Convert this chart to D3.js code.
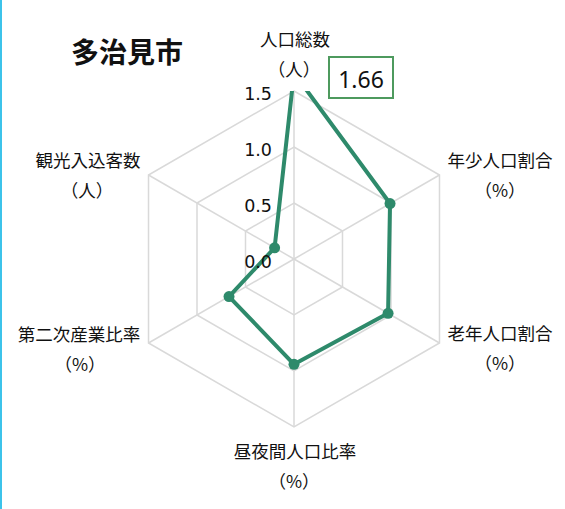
<!DOCTYPE html>
<html><head><meta charset="utf-8">
<script src="https://cdn.jsdelivr.net/npm/d3@7"></script>
<style>body{margin:0;background:#fff;}svg{display:block;}</style>
</head><body>
<script>
const title = "多治見市";
const categories = ["人口総数", "年少人口割合", "老年人口割合", "昼夜間人口比率", "第二次産業比率", "観光入込客数"];
const units = ["（人）", "（%）", "（%）", "（%）", "（%）", "（人）"];
const values = [1.66, 0.99, 0.97, 0.94, 0.67, 0.2];
const ticks = [0.0, 0.5, 1.0, 1.5];
const highlightLabel = "1.66";

const W = 565, H = 509;
const cx = 294, cy = 259;
const svg = d3.select("body").append("svg").attr("width", W).attr("height", H);

svg.append("rect").attr("x", 0).attr("y", 0).attr("width", 2).attr("height", H).attr("fill", "#3cc3ea");

const r = d3.scaleLinear().domain([0, 1.5]).range([0, 168]);
const ang = d3.scaleLinear().domain([0, categories.length]).range([0, 2 * Math.PI]);
const pt = (i, v) => [cx + r(v) * Math.sin(ang(i)), cy - r(v) * Math.cos(ang(i))];

const grid = svg.append("g");
ticks.filter(t => t > 0).forEach(t => {
  grid.append("path")
    .attr("d", d3.line()(categories.map((c, i) => pt(i, t))) + "Z")
    .attr("fill", "none").attr("stroke", "#d9d9d9").attr("stroke-width", 1.5);
});
categories.forEach((c, i) => {
  const [x, y] = pt(i, 1.5);
  grid.append("line").attr("x1", cx).attr("y1", cy).attr("x2", x).attr("y2", y)
    .attr("stroke", "#d9d9d9").attr("stroke-width", 1.5);
});

svg.append("defs").append("clipPath").attr("id", "plotclip")
  .append("rect").attr("x", 0).attr("y", cy - r(1.5)).attr("width", W).attr("height", H);

const color = "#2e8a6b";
const dg = svg.append("g").attr("clip-path", "url(#plotclip)");
dg.append("path")
  .attr("d", d3.line()(values.map((v, i) => pt(i, v))) + "Z")
  .attr("fill", "none").attr("stroke", color).attr("stroke-width", 4).attr("stroke-linejoin", "round");
dg.selectAll("circle").data(values).join("circle")
  .attr("cx", (v, i) => pt(i, v)[0]).attr("cy", (v, i) => pt(i, v)[1])
  .attr("r", 5.5).attr("fill", color);

svg.selectAll("text.tick").data(ticks).join("text").attr("class", "tick")
  .attr("x", cx - 22).attr("y", t => cy - r(t) + 3)
  .attr("text-anchor", "end").attr("dominant-baseline", "central")
  .attr("font-family", "DejaVu Sans").attr("font-size", 17.5).attr("fill", "#111")
  .text(t => t.toFixed(1));

// axis labels
const labelPos = [
  [295, 38], [500, 159], [500, 332], [295, 450], [79, 333], [88, 159]
];
const unitX = [294, 500, 500, 294, 80, 87];
const jp = "'Noto Sans CJK JP', sans-serif";
categories.forEach((c, i) => {
  const [x, y] = labelPos[i];
  svg.append("text").attr("x", x).attr("y", y).attr("text-anchor", "middle")
    .attr("dominant-baseline", "central").attr("font-family", jp).attr("font-size", 17.5)
    .attr("fill", "#111").text(c);
  svg.append("text").attr("x", unitX[i]).attr("y", y + 30).attr("text-anchor", "middle")
    .attr("dominant-baseline", "central").attr("font-family", jp).attr("font-size", 17.5)
    .attr("fill", "#111").text(units[i]);
});

// highlight label for clipped value
const bx = 329, by = 57, bw = 64, bh = 41;
svg.append("rect").attr("x", bx).attr("y", by).attr("width", bw).attr("height", bh)
  .attr("fill", "#fff").attr("stroke", "#4e9a5e").attr("stroke-width", 2);
svg.append("text").attr("x", bx + bw / 2).attr("y", by + bh / 2 + 1).attr("text-anchor", "middle")
  .attr("dominant-baseline", "central").attr("font-family", "'Noto Sans', sans-serif")
  .attr("font-size", 23).attr("fill", "#111").text(highlightLabel);

svg.append("text").attr("x", 71).attr("y", 51).attr("dominant-baseline", "central")
  .attr("font-family", jp).attr("font-weight", "bold").attr("font-size", 28)
  .attr("fill", "#111").text(title);
</script>
</body></html>
